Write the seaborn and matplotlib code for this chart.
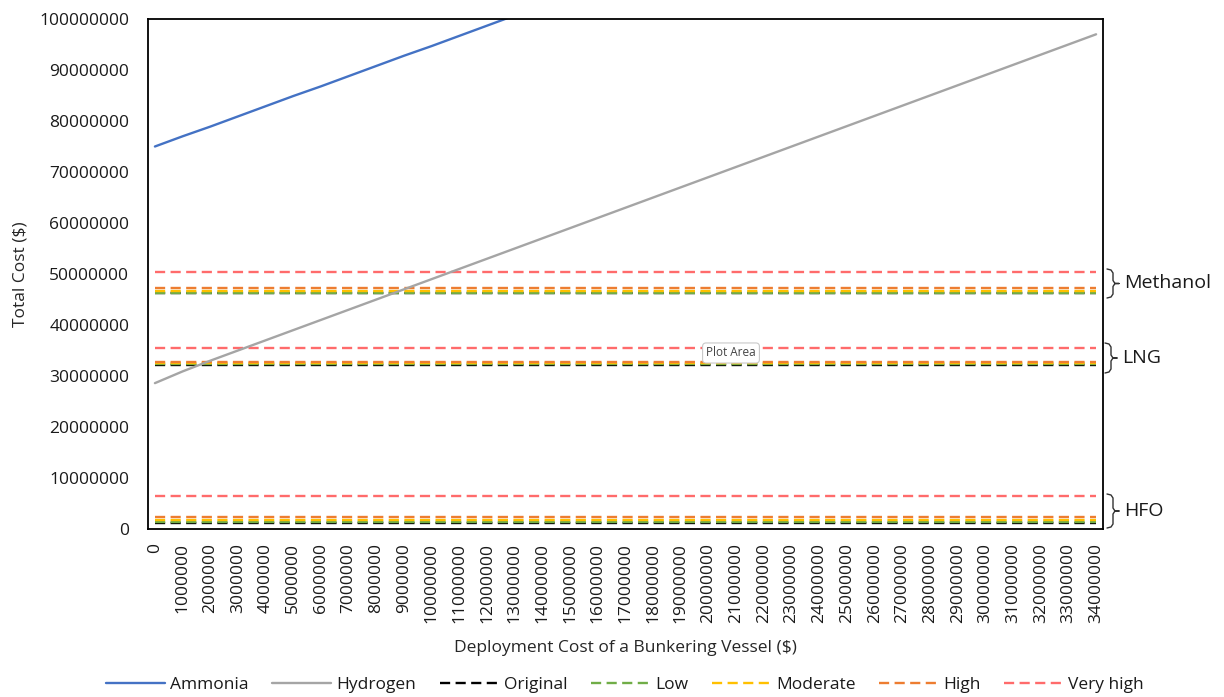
import numpy as np
import pandas as pd
import matplotlib
matplotlib.use("Agg")
import matplotlib.pyplot as plt
from matplotlib.lines import Line2D
import seaborn as sns

# x categories: deployment cost of a bunkering vessel ($)
deploy_cost = [i * 1000000 for i in range(35)]

# solid series (values in $), Ammonia runs off the top of the axis after ~13M
ammonia = [75.0e6, 77.0e6, 78.9e6, 80.9e6, 82.9e6, 84.9e6, 86.8e6, 88.8e6,
           90.8e6, 92.8e6, 94.7e6, 96.7e6, 98.7e6, 100.7e6]
hydrogen = [28.6e6, 30.9e6, 33.0e6, 35.0e6, 37.0e6, 39.0e6, 41.0e6, 43.0e6,
            45.0e6, 47.0e6, 49.0e6, 51.0e6, 53.0e6, 55.0e6, 57.0e6, 59.0e6,
            61.0e6, 63.0e6, 65.0e6, 67.0e6, 69.0e6, 71.0e6, 73.0e6, 75.0e6,
            77.0e6, 79.0e6, 81.0e6, 83.0e6, 85.0e6, 87.0e6, 89.0e6, 91.0e6,
            93.0e6, 95.0e6, 97.0e6]

# scenario levels per fuel (constant over deployment cost)
scenarios = ["Original", "Low", "Moderate", "High", "Very high"]
hfo = [1.2e6, 1.4e6, 1.8e6, 2.3e6, 6.5e6]
lng = [32.2e6, 32.3e6, 32.5e6, 32.7e6, 35.5e6]
methanol = [46.2e6, 46.3e6, 46.7e6, 47.2e6, 50.3e6]

scen_colors = ["#000000", "#70AD47", "#FFC000", "#ED7D31", "#FF6B6B"]
solid_colors = {"Ammonia": "#4472C4", "Hydrogen": "#A5A5A5"}

sns.set_theme(style="white")
plt.rcParams['font.family'] = ['Open Sans', 'DejaVu Sans']
plt.rcParams['text.color'] = '#1a1a1a'

W, H = 1224, 697
fig, ax = plt.subplots(figsize=(W / 100, H / 100), dpi=100)
fig.subplots_adjust(left=148 / W, right=1103 / W, top=1 - 19 / H, bottom=1 - 529 / H)

pos = np.arange(len(deploy_cost))
lw = 1.7
dash = (4.3, 2.3)

# constant scenario lines, Original first so the others sit on top
for s_i, name in enumerate(scenarios):
    for fuel in (hfo, lng, methanol):
        d = pd.DataFrame({"x": pos, "y": np.repeat(fuel[s_i], len(pos))})
        sns.lineplot(data=d, x="x", y="y", ax=ax, color=scen_colors[s_i],
                     linewidth=lw, legend=False)
        ax.lines[-1].set_dashes(dash)

df_solid = pd.concat([
    pd.DataFrame({"x": pos[:len(ammonia)], "y": ammonia, "fuel": "Ammonia"}),
    pd.DataFrame({"x": pos, "y": hydrogen, "fuel": "Hydrogen"}),
])
sns.lineplot(data=df_solid, x="x", y="y", hue="fuel", palette=solid_colors,
             ax=ax, linewidth=lw, legend=False)

ax.set_xlim(-0.25, 34.25)
ax.set_ylim(0, 100000000)
ax.set_yticks(np.arange(0, 100000001, 10000000))
ax.set_yticklabels([str(v) for v in range(0, 100000001, 10000000)])
ax.set_xticks(pos)
ax.set_xticklabels([str(v) for v in deploy_cost], rotation=90, va="top", ha="center")
ax.tick_params(axis="both", length=0, labelsize=12.5, colors="#1a1a1a")
ax.tick_params(axis="y", pad=13.5)
ax.tick_params(axis="x", pad=10)
ax.set_xlabel("Deployment Cost of a Bunkering Vessel ($)", fontsize=12.5, labelpad=12)
ax.set_ylabel("Total Cost ($)", fontsize=12.5, labelpad=8)
for sp in ax.spines.values():
    sp.set_color("#000000")
    sp.set_linewidth(1.3)

# legend
handles = [Line2D([], [], color=solid_colors["Ammonia"], lw=lw),
           Line2D([], [], color=solid_colors["Hydrogen"], lw=lw)]
for c in scen_colors:
    handles.append(Line2D([], [], color=c, lw=lw, dashes=dash))
labels = ["Ammonia", "Hydrogen"] + scenarios
fig.legend(handles, labels, loc="center", bbox_to_anchor=(625 / W, 1 - 685 / H),
           ncol=7, frameon=False, fontsize=12.5, handlelength=3.4,
           handletextpad=0.3, columnspacing=1.35)


# curly braces and fuel names on the right
def brace(top, bot, label, x0=1107):
    mid = (top + bot) / 2
    xs = [x0, x0 + 4, x0 + 6, x0 + 6, x0 + 8, x0 + 12, x0 + 8, x0 + 6, x0 + 6, x0 + 4, x0]
    ys = [top, top + 1, top + 4, mid - 3, mid, mid, mid, mid + 3, bot - 4, bot - 1, bot]
    fig.add_artist(Line2D([x / W for x in xs], [1 - y / H for y in ys],
                          transform=fig.transFigure, color="#333333", lw=1.0))
    fig.text((x0 + 17) / W, 1 - mid / H, label, fontsize=14, va="center", ha="left")


brace(269, 298, "Methanol")
brace(343, 373, "LNG", x0=1105)
brace(494, 528, "HFO")

# Excel hover tooltip visible in the original screenshot
fig.text(731 / W, 1 - 353 / H, "Plot Area", fontsize=8.5, ha="center", va="center",
         color="#444444",
         bbox=dict(boxstyle="round,pad=0.3", fc="white", ec="#c8c8c8", lw=0.8))

fig.savefig("out.png", dpi=100)
